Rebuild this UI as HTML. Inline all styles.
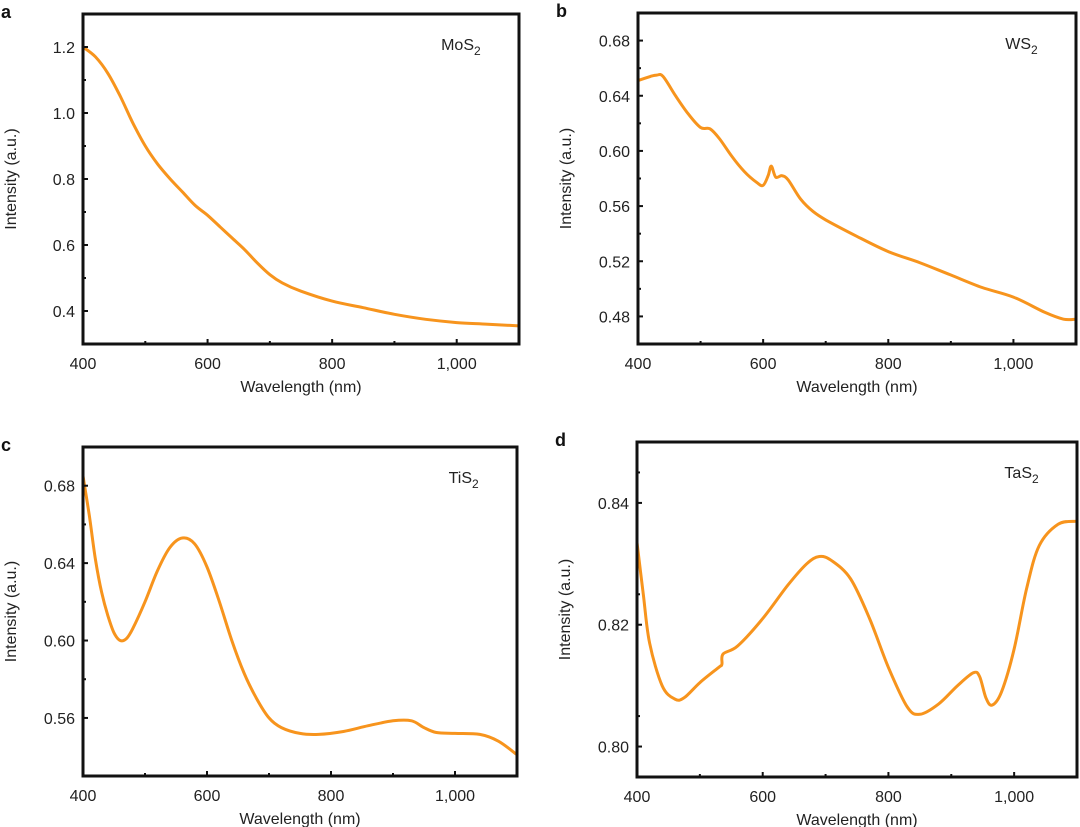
<!DOCTYPE html>
<html><head><meta charset="utf-8"><style>
body{margin:0;background:#fff;}
svg{display:block;font-family:"Liberation Sans",Arial,sans-serif;}
</style></head><body>
<svg id="fig" width="1080" height="827" viewBox="0 0 1080 827" xmlns="http://www.w3.org/2000/svg"></svg>
<script>
const xTicks = [400, 600, 800, 1000];
const xTickLabels = ["400", "600", "800", "1,000"];
const xMinor = [500, 700, 900];

const aX = [400,420,440,460,480,500,520,540,560,580,600,620,640,660,680,700,720,750,800,850,900,950,1000,1050,1100];
const aY = [1.2,1.17,1.12,1.05,0.97,0.90,0.845,0.80,0.76,0.72,0.69,0.655,0.62,0.585,0.545,0.51,0.485,0.46,0.43,0.41,0.39,0.375,0.365,0.36,0.355];
const aTicks = [0.4,0.6,0.8,1.0,1.2];
const aTickLabels = ["0.4","0.6","0.8","1.0","1.2"];

const bX = [400,420,430,440,460,480,500,515,530,550,570,590,600,608,613,620,630,640,660,680,700,750,800,850,900,950,1000,1050,1080,1100];
const bY = [0.651,0.654,0.655,0.654,0.64,0.627,0.617,0.616,0.609,0.596,0.585,0.577,0.575,0.582,0.589,0.581,0.582,0.579,0.565,0.556,0.550,0.538,0.527,0.519,0.510,0.501,0.494,0.483,0.478,0.478];
const bTicks = [0.48,0.52,0.56,0.60,0.64,0.68];
const bTickLabels = ["0.48","0.52","0.56","0.60","0.64","0.68"];

const cX = [400,410,420,430,440,450,460,470,480,500,520,540,560,580,600,620,640,660,680,700,720,750,780,820,860,900,930,950,970,1000,1040,1070,1100];
const cY = [0.685,0.665,0.642,0.625,0.613,0.604,0.600,0.601,0.606,0.620,0.636,0.648,0.653,0.650,0.638,0.620,0.600,0.583,0.570,0.560,0.555,0.552,0.5515,0.553,0.556,0.5585,0.5585,0.555,0.5525,0.552,0.5515,0.548,0.541];
const cTicks = [0.56,0.60,0.64,0.68];
const cTickLabels = ["0.56","0.60","0.64","0.68"];

const dX = [400,410,420,440,460,475,500,530,535,537,560,600,640,670,690,710,740,770,800,830,850,880,910,935,945,955,965,980,1000,1020,1040,1070,1100];
const dY = [0.8335,0.825,0.817,0.810,0.8078,0.808,0.8105,0.813,0.8135,0.8152,0.8165,0.821,0.8265,0.830,0.8312,0.8305,0.8275,0.821,0.813,0.8065,0.8053,0.807,0.810,0.8121,0.8115,0.808,0.8068,0.809,0.816,0.826,0.833,0.8365,0.837];
const dTicks = [0.80,0.82,0.84];
const dTickLabels = ["0.80","0.82","0.84"];

const NS = "http://www.w3.org/2000/svg";
const svg = document.getElementById('fig');
function mk(tag, attrs, parent, text){
  const e = document.createElementNS(NS, tag);
  for (const k in attrs) e.setAttribute(k, attrs[k]);
  if (text !== undefined) e.textContent = text;
  parent.appendChild(e);
  return e;
}
function smoothPath(pts){
  let d = 'M' + pts[0][0].toFixed(1) + ',' + pts[0][1].toFixed(1);
  for (let i = 0; i < pts.length - 1; i++) {
    const p0 = pts[Math.max(0, i - 1)], p1 = pts[i], p2 = pts[i + 1], p3 = pts[Math.min(pts.length - 1, i + 2)];
    const c1x = p1[0] + (p2[0] - p0[0]) / 6, c1y = p1[1] + (p2[1] - p0[1]) / 6;
    const c2x = p2[0] - (p3[0] - p1[0]) / 6, c2y = p2[1] - (p3[1] - p1[1]) / 6;
    d += 'C' + c1x.toFixed(1) + ',' + c1y.toFixed(1) + ' ' + c2x.toFixed(1) + ',' + c2y.toFixed(1) + ' ' + p2[0].toFixed(1) + ',' + p2[1].toFixed(1);
  }
  return d;
}

function panel(id, letter, label, box, ymin, ymax, xs, ys, yt, ytl, ystep){
  const [L,T,R,B] = box;
  const g = mk('g', {}, svg);
  
  
  const sx = v => L + (v - 400) / 700 * (R - L);
  const sy = v => B - (v - ymin) / (ymax - ymin) * (B - T);
  const pts = xs.map((x, i) => [sx(x), sy(ys[i])]);
  const p = mk('path', {d: smoothPath(pts), fill: 'none', stroke: '#f7941d', 'stroke-width': 3, 'stroke-linejoin': 'round', 'stroke-linecap': 'round'}, g);
  
  
  const f = mk('rect', {x: L, y: T, width: R - L, height: B - T, fill: 'none', stroke: '#111', 'stroke-width': 3}, g);
  
  
  xTicks.forEach((v, i) => {
    mk('line', {x1: sx(v), x2: sx(v), y1: B, y2: B - 5, stroke: '#111', 'stroke-width': 2}, g);
    const t = mk('text', {x: sx(v), y: B + 25, 'font-size': 16, 'text-anchor': 'middle', fill: '#222'}, g, xTickLabels[i]);
    
    
  });
  xMinor.forEach(v => mk('line', {x1: sx(v), x2: sx(v), y1: B, y2: B - 3, stroke: '#111', 'stroke-width': 2}, g));
  yt.forEach((v, i) => {
    mk('line', {x1: L, x2: L + 5, y1: sy(v), y2: sy(v), stroke: '#111', 'stroke-width': 2}, g);
    const m = v + ystep / 2;
    if (m < ymax) mk('line', {x1: L, x2: L + 3, y1: sy(m), y2: sy(m), stroke: '#111', 'stroke-width': 2}, g);
    const t = mk('text', {x: L - 8, y: sy(v) + 6, 'font-size': 16, 'text-anchor': 'end', fill: '#222'}, g, ytl[i]);
    
    
  });
  const xt = mk('text', {x: (L + R) / 2, y: B + 48, 'font-size': 16, 'text-anchor': 'middle', fill: '#222'}, g, 'Wavelength (nm)');
  
  
  const cy = (T + B) / 2, cx = L - 67;
  const ytt = mk('text', {x: cx, y: cy, 'font-size': 16, 'text-anchor': 'middle', fill: '#222', transform: 'rotate(-90 ' + cx + ' ' + cy + ')'}, g, 'Intensity (a.u.)');
  
  
  const lt = mk('text', {x: L - 82, y: T + 4, 'font-size': 18, 'font-weight': 'bold', fill: '#111'}, g, letter);
  
  
  const nm = mk('text', {x: R - 45, y: T + 36, 'font-size': 16, 'text-anchor': 'end', fill: '#222'}, g, label);
  
  
  const sub = mk('text', {x: R - 45, y: T + 41, 'font-size': 12, fill: '#222'}, g, '2');
  
  
}

panel('a', 'a', 'MoS', [83, 14, 519, 344], 0.30, 1.30, aX, aY, aTicks, aTickLabels, 0.2);
panel('b', 'b', 'WS', [638, 13, 1076, 344], 0.46, 0.70, bX, bY, bTicks, bTickLabels, 0.04);
panel('c', 'c', 'TiS', [83, 447, 517, 776], 0.53, 0.70, cX, cY, cTicks, cTickLabels, 0.04);
panel('d', 'd', 'TaS', [637, 442, 1077, 777], 0.795, 0.85, dX, dY, dTicks, dTickLabels, 0.01);
</script>
</body></html>
